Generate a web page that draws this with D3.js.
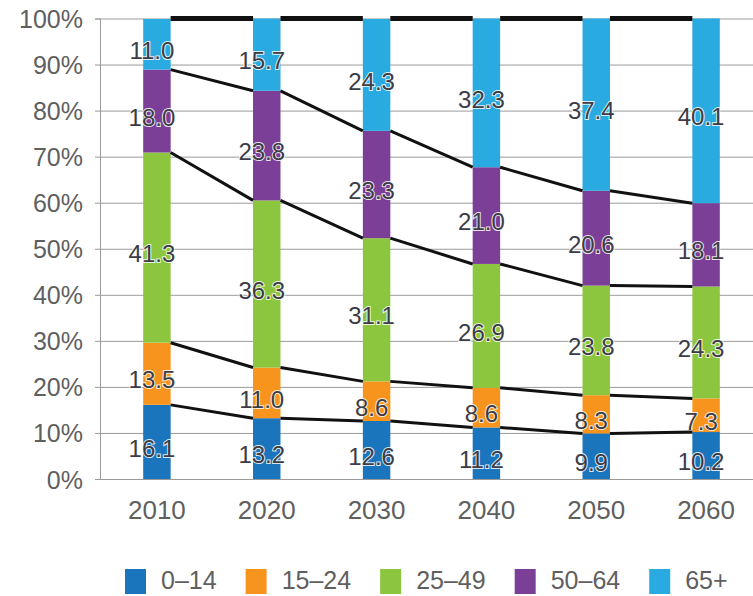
<!DOCTYPE html>
<meta charset="utf-8">
<head>
<style>
body { margin: 0; background: #fff; }
text { font-family: 'Liberation Sans', Arial, sans-serif; }
.axis text { fill: #5f5f5f; font-size: 25px; }
.val { fill: #3c3c46; font-size: 24px; stroke: #fff; stroke-width: 2px; stroke-opacity: 0.85; paint-order: stroke; }
.legend text { fill: #5f5f5f; font-size: 25px; }
</style>
<script src="https://d3js.org/d3.v7.min.js"></script>
</head>
<body>
<svg id="chart"></svg>
<script>

// data
var years = ["2010", "2020", "2030", "2040", "2050", "2060"]
var groups = ["0\u201314", "15\u201324", "25\u201349", "50\u201364", "65+"]
var age0_14 = [16.1, 13.2, 12.6, 11.2, 9.9, 10.2]
var age15_24 = [13.5, 11.0, 8.6, 8.6, 8.3, 7.3]
var age25_49 = [41.3, 36.3, 31.1, 26.9, 23.8, 24.3]
var age50_64 = [18.0, 23.8, 23.3, 21.0, 20.6, 18.1]
var age65 = [11.0, 15.7, 24.3, 32.3, 37.4, 40.1]
var yTicks = [0, 10, 20, 30, 40, 50, 60, 70, 80, 90, 100]

var colors = ["#1b75bc", "#f7941d", "#8cc63f", "#7b3f98", "#29aae1"]

var width = 753, height = 596

var svg = d3.select('#chart')
  .attr('width', width)
  .attr('height', height)

// table for the stack
var table = years.map(function (y, i) {
  return { year: y, g0: age0_14[i], g1: age15_24[i], g2: age25_49[i], g3: age50_64[i], g4: age65[i] }
})
var keys = ["g0", "g1", "g2", "g3", "g4"]
var series = d3.stack().keys(keys)(table)

var x = d3.scaleBand()
  .domain(years)
  .range([102, 761])
  .paddingInner(0.75)
  .paddingOuter(0.375)

var y = d3.scaleLinear()
  .domain([0, 100])
  .range([479, 18.5])

// gridlines + y axis labels
var yAxis = svg.append('g')
  .attr('class', 'axis')
  .attr('transform', 'translate(100,0)')
  .call(d3.axisLeft(y).tickValues(yTicks).tickSize(5).tickPadding(12).tickFormat(function (d) { return d + '%' }))
yAxis.select('.domain').attr('stroke', '#9a9a9a')
yAxis.selectAll('.tick line').attr('stroke', '#9a9a9a')
yAxis.selectAll('.tick').append('line')
  .attr('x1', 0).attr('x2', width)
  .attr('stroke', '#9a9a9a')
yAxis.selectAll('.tick text').attr('dy', '0.36em')

// x axis labels
var xAxis = svg.append('g')
  .attr('class', 'axis')
  .attr('transform', 'translate(0,479)')
  .call(d3.axisBottom(x).tickSize(0).tickPadding(22))
xAxis.select('.domain').remove()
xAxis.selectAll('.tick text').style('font-size', '26px')

// bars
var layer = svg.selectAll('.layer')
  .data(series)
  .enter().append('g')
  .attr('class', 'layer')
  .attr('fill', function (d, i) { return colors[i] })

layer.selectAll('rect')
  .data(function (d) { return d })
  .enter().append('rect')
  .attr('x', function (d) { return x(d.data.year) })
  .attr('width', x.bandwidth())
  .attr('y', function (d) { return y(Math.min(d[1], 100)) })
  .attr('height', function (d) { return y(d[0]) - y(Math.min(d[1], 100)) })

// series lines between the bars
var bounds = series.map(function (s, k) {
  return s.map(function (d) { return k == series.length - 1 ? 100 : d[1] })
})
bounds.forEach(function (b, k) {
  var segs = []
  for (var i = 0; i < years.length - 1; i++) {
    segs.push([[x(years[i]) + x.bandwidth(), y(b[i])], [x(years[i + 1]), y(b[i + 1])]])
  }
  svg.append('g').selectAll('line')
    .data(segs)
    .enter().append('line')
    .attr('x1', function (d) { return d[0][0] })
    .attr('y1', function (d) { return d[0][1] })
    .attr('x2', function (d) { return d[1][0] })
    .attr('y2', function (d) { return d[1][1] })
    .attr('stroke', '#111')
    .attr('stroke-width', k == bounds.length - 1 ? 5 : 3)
})

// value labels
layer.selectAll('text')
  .data(function (d) { return d })
  .enter().append('text')
  .attr('class', 'val')
  .attr('text-anchor', 'middle')
  .attr('x', function (d) { return x(d.data.year) + x.bandwidth() / 2 - 5 })
  .attr('y', function (d) { return y((d[0] + Math.min(d[1], 100)) / 2) + 6 })
  .attr('dy', '0.36em')
  .text(function (d) { return (d[1] - d[0]).toFixed(1) })

// legend
var legend = svg.append('g').attr('class', 'legend')
var lx = 125
groups.forEach(function (g, i) {
  legend.append('rect')
    .attr('x', lx).attr('y', 569)
    .attr('width', 21).attr('height', 25)
    .attr('fill', colors[i])
  var t = legend.append('text')
    .attr('x', lx + 36).attr('y', 589)
    .text(g)
  lx = lx + 36 + t.node().getComputedTextLength() + 29
})

</script>
</body>
